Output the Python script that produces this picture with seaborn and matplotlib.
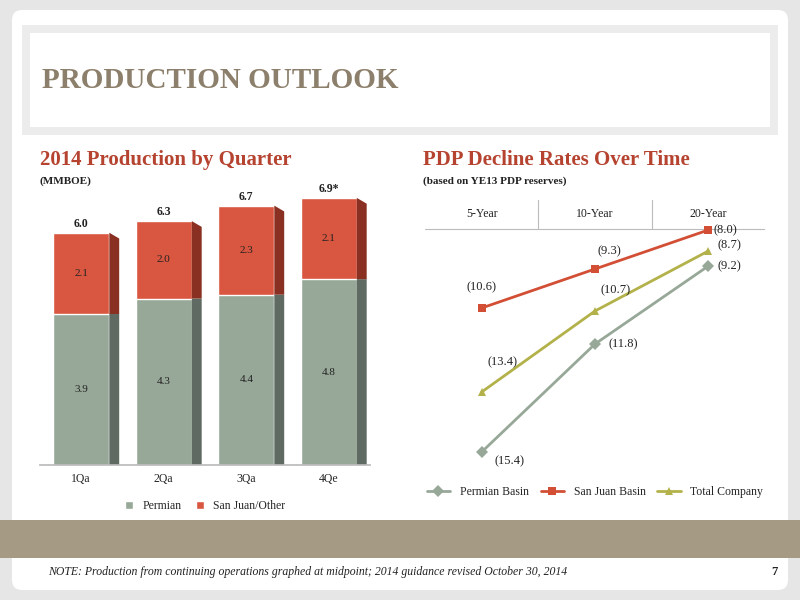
import matplotlib
matplotlib.use("Agg")
import matplotlib.pyplot as plt
import seaborn as sns
import pandas as pd
import numpy as np
from matplotlib.patches import Rectangle, FancyBboxPatch

quarters = ["1Qa", "2Qa", "3Qa", "4Qe"]
permian = [3.9, 4.3, 4.4, 4.8]
sanjuan = [2.1, 2.0, 2.3, 2.1]
totals = ["6.0", "6.3", "6.7", "6.9*"]

periods = ["5-Year", "10-Year", "20-Year"]
perm_decl = [-15.4, -11.8, -9.2]
sj_decl = [-10.6, -9.3, -8.0]
tot_decl = [-13.4, -10.7, -8.7]

sns.set_theme(style="white")
plt.rcParams['font.family'] = ['Liberation Serif', 'DejaVu Serif']

W, H = 800, 600
fig = plt.figure(figsize=(8, 6), dpi=100)
fig.patch.set_facecolor("#e6e6e6")

def px(x, y, w, h):
    return [x / W, 1 - (y + h) / H, w / W, h / H]

bg = fig.add_axes([0, 0, 1, 1]); bg.set_xlim(0, W); bg.set_ylim(H, 0); bg.axis("off")
bg.add_patch(FancyBboxPatch((12, 10), 776, 580, boxstyle="round,pad=0,rounding_size=10", fc="white", ec="none"))
bg.add_patch(Rectangle((22, 25), 756, 110, fc="#ececec", ec="none"))
bg.add_patch(Rectangle((30, 33), 740, 94, fc="white", ec="none"))
bg.add_patch(Rectangle((0, 520), W, 38, fc="#a59a84", ec="none"))
bg.text(42, 80, "PRODUCTION OUTLOOK", fontsize=21, fontweight="bold", color="#8c7f6b", va="center")
bg.text(40, 160, "2014 Production by Quarter", fontsize=15, fontweight="bold", color="#b5432f", va="center")
bg.text(40, 181, "(MMBOE)", fontsize=8, fontweight="bold", color="#222", va="center")
bg.text(423, 160, "PDP Decline Rates Over Time", fontsize=15, fontweight="bold", color="#b5432f", va="center")
bg.text(423, 181, "(based on YE13 PDP reserves)", fontsize=8, fontweight="bold", color="#222", va="center")
bg.text(48, 572, "NOTE: Production from continuing operations graphed at midpoint; 2014 guidance revised October 30, 2014",
        fontsize=8.5, style="italic", color="#222", va="center")
bg.text(778, 572, "7", fontsize=9, fontweight="bold", color="#222", va="center", ha="right")

# Bar chart
ax = fig.add_axes(px(40, 194, 330, 271))
df = pd.DataFrame({"q": quarters, "Permian": permian, "San Juan/Other": sanjuan})
df["tot"] = df["Permian"] + df["San Juan/Other"]
gray, red = "#97a898", "#d95740"
sns.barplot(data=df, x="q", y="tot", color=red, width=0.68, ax=ax, saturation=1, label="San Juan/Other")
sns.barplot(data=df, x="q", y="Permian", color=gray, width=0.68, ax=ax, saturation=1, label="Permian")
for i, (p, s) in enumerate(zip(permian, sanjuan)):
    x0 = i + 0.34
    ax.add_patch(plt.Polygon([[x0, 0], [x0 + 0.12, -0.12], [x0 + 0.12, p], [x0, p]], fc="#5f6b62", ec="none", zorder=1))
    ax.add_patch(plt.Polygon([[x0, p], [x0 + 0.12, p], [x0 + 0.12, p + s - 0.15], [x0, p + s]], fc="#8a3022", ec="none", zorder=1))
    ax.text(i, p / 2, f"{p:.1f}", ha="center", va="center", fontsize=8, color="#222")
    ax.text(i, p + s / 2, f"{s:.1f}", ha="center", va="center", fontsize=8, color="#222")
    ax.text(i, p + s + 0.08, totals[i], ha="center", va="bottom", fontsize=8.5, fontweight="bold", color="#222")
ax.set_ylim(0, 7.0)
ax.set_xlim(-0.5, 3.5)
ax.set_yticks([])
ax.set_xlabel(""); ax.set_ylabel("")
for s in ["top", "right", "left"]:
    ax.spines[s].set_visible(False)
ax.spines["bottom"].set_color("#bbb")
ax.tick_params(axis="x", labelsize=8.5, length=0, pad=6)
h, l = ax.get_legend_handles_labels()
ax.legend(h[::-1], l[::-1], loc="upper center", bbox_to_anchor=(0.5, -0.09), ncol=2, frameon=False,
          fontsize=8.5, handlelength=0.7, handleheight=0.7, columnspacing=1.2)

# Line chart
ax2 = fig.add_axes(px(425, 200, 340, 270))
ld = pd.DataFrame({"period": periods * 3,
                   "val": perm_decl + sj_decl + tot_decl,
                   "series": ["Permian Basin"] * 3 + ["San Juan Basin"] * 3 + ["Total Company"] * 3})
ld["x"] = np.tile(np.arange(3), 3)
pal = {"Permian Basin": "#97a898", "San Juan Basin": "#d24f35", "Total Company": "#b3b24a"}
markers = {"Permian Basin": "D", "San Juan Basin": "s", "Total Company": "^"}
sns.lineplot(data=ld, x="x", y="val", hue="series", style="series", markers=markers, dashes=False,
             palette=pal, linewidth=2, markersize=6, markeredgewidth=0, ax=ax2)
offs = {"Permian Basin": [(20, -0.3), (20, 0), (15, 0)],
        "San Juan Basin": [(0, 0.7), (10, 0.6), (12, 0)],
        "Total Company": [(15, 1.0), (15, 0.7), (15, 0.2)]}
for s_, vals in [("Permian Basin", perm_decl), ("San Juan Basin", sj_decl), ("Total Company", tot_decl)]:
    for i, v in enumerate(vals):
        dx, dy = offs[s_][i]
        ax2.annotate(f"({abs(v):.1f})", (i, v + dy), xytext=(dx, 0), textcoords="offset points",
                     ha="center", va="center", fontsize=9, color="#222")
top, band = -7.0, -7.95
ax2.set_xlim(-0.5, 2.5)
ax2.set_ylim(-16.0, top)
ax2.set_xticks([]); ax2.set_yticks([])
for i, p in enumerate(periods):
    ax2.text(i, (top + band) / 2, p, ha="center", va="center", fontsize=8.5, color="#222")
ax2.set_xlabel(""); ax2.set_ylabel("")
for s in ax2.spines.values():
    s.set_visible(False)
for xv in [0.5, 1.5]:
    ax2.plot([xv, xv], [top, band], color="#bbb", lw=0.8)
ax2.axhline(band, color="#bbb", lw=0.8, zorder=0)
ax2.legend(loc="upper center", bbox_to_anchor=(0.5, -0.02), ncol=3, frameon=False, fontsize=8.5,
           handlelength=2, columnspacing=1.0)

fig.savefig("out.png", dpi=100, facecolor=fig.get_facecolor())
